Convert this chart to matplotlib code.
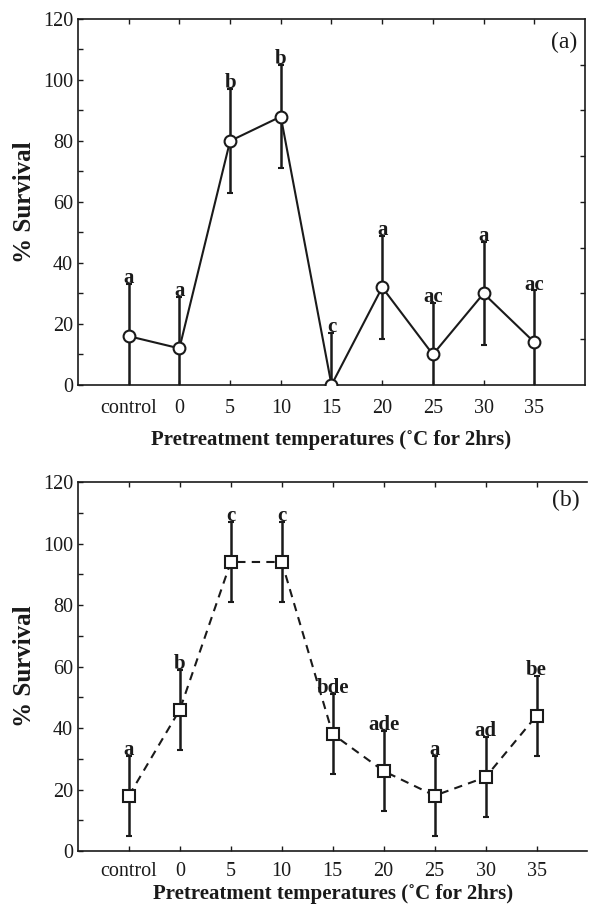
import numpy as np
import matplotlib
matplotlib.use("Agg")
import matplotlib.pyplot as plt
from matplotlib.ticker import MultipleLocator, NullFormatter

# categories along the x axis
labels = ["control", "0", "5", "10", "15", "20", "25", "30", "35"]

# panel (a): mean % survival, error and significance letters
surv_a = [16, 12, 80, 88, 0, 32, 10, 30, 14]
err_a = [17, 17, 17, 17, 17, 17, 17, 17, 17]
sig_a = ["a", "a", "b", "b", "c", "a", "ac", "a", "ac"]

# panel (b)
surv_b = [18, 46, 94, 94, 38, 26, 18, 24, 44]
err_b = [13, 13, 13, 13, 13, 13, 13, 13, 13]
sig_b = ["a", "b", "c", "c", "bde", "ade", "a", "ad", "be"]

plt.rcParams["font.family"] = ["Liberation Serif", "DejaVu Serif"]
plt.rcParams["font.size"] = 14

fig = plt.figure(figsize=(5.89, 9.09), dpi=100)
ax_a = fig.add_axes([0.1324, 0.5765, 0.8608, 0.4026])
ax_b = fig.add_axes([0.1324, 0.0638, 0.8650, 0.4059])

x = np.arange(len(labels))
ink = "#1a1a1a"


def draw_panel(ax, y, err, sig, marker, ls, tag, tag_y, right_ticks, tpad, xpad):
    ax.errorbar(x, y, yerr=err, color=ink, lw=1.5, ls=ls, dashes=(4, 3) if ls == "--" else (None, None),
                marker=marker, ms=8.5 if marker == "o" else 8, mfc="white", mec=ink, mew=1.5,
                ecolor=ink, elinewidth=1.8, capsize=2.5, capthick=1.5, zorder=3)
    for xi, yi, e, s in zip(x, y, err, sig):
        ax.text(xi, yi + e + 0.3, s, ha="center", va="baseline", fontsize=15,
                fontweight="bold", color=ink, zorder=4)
    ax.set_xlim(-1, 9)
    ax.set_ylim(0, 120)
    ax.set_xticks(x)
    ax.set_xticklabels(labels)
    ax.yaxis.set_major_locator(MultipleLocator(20))
    ax.yaxis.set_minor_locator(MultipleLocator(10))
    ax.tick_params(axis="both", which="both", direction="in", top=True, right=False, length=3.5, width=1,
                   colors=ink, labelcolor=ink, labelsize=14.5)
    ax.tick_params(axis="x", pad=tpad)
    for sp in ax.spines.values():
        sp.set_linewidth(1.2)
        sp.set_color(ink)
    if right_ticks:
        sec = ax.secondary_yaxis("right")
        sec.set_yticks(np.arange(15, 120, 15))
        sec.yaxis.set_major_formatter(NullFormatter())
        sec.tick_params(direction="in", length=3.5, width=1, colors=ink)
        sec.spines["right"].set_visible(False)
    else:
        ax.spines["right"].set_visible(False)
    ax.set_xlabel("Pretreatment temperatures (˚C for 2hrs)", fontweight="bold", fontsize=15, labelpad=xpad,
                  color=ink)
    ax.set_ylabel("% Survival", fontweight="bold", fontsize=18, labelpad=5, color=ink)
    ax.text(0.985, tag_y, tag, transform=ax.transAxes, ha="right", va="top", fontsize=17, color=ink)


draw_panel(ax_a, surv_a, err_a, sig_a, "o", "-", "(a)", 0.965, True, 10, 9)
draw_panel(ax_b, surv_b, err_b, sig_b, "s", "--", "(b)", 0.98, False, 8, 2)

fig.savefig("out.png", dpi=100)
